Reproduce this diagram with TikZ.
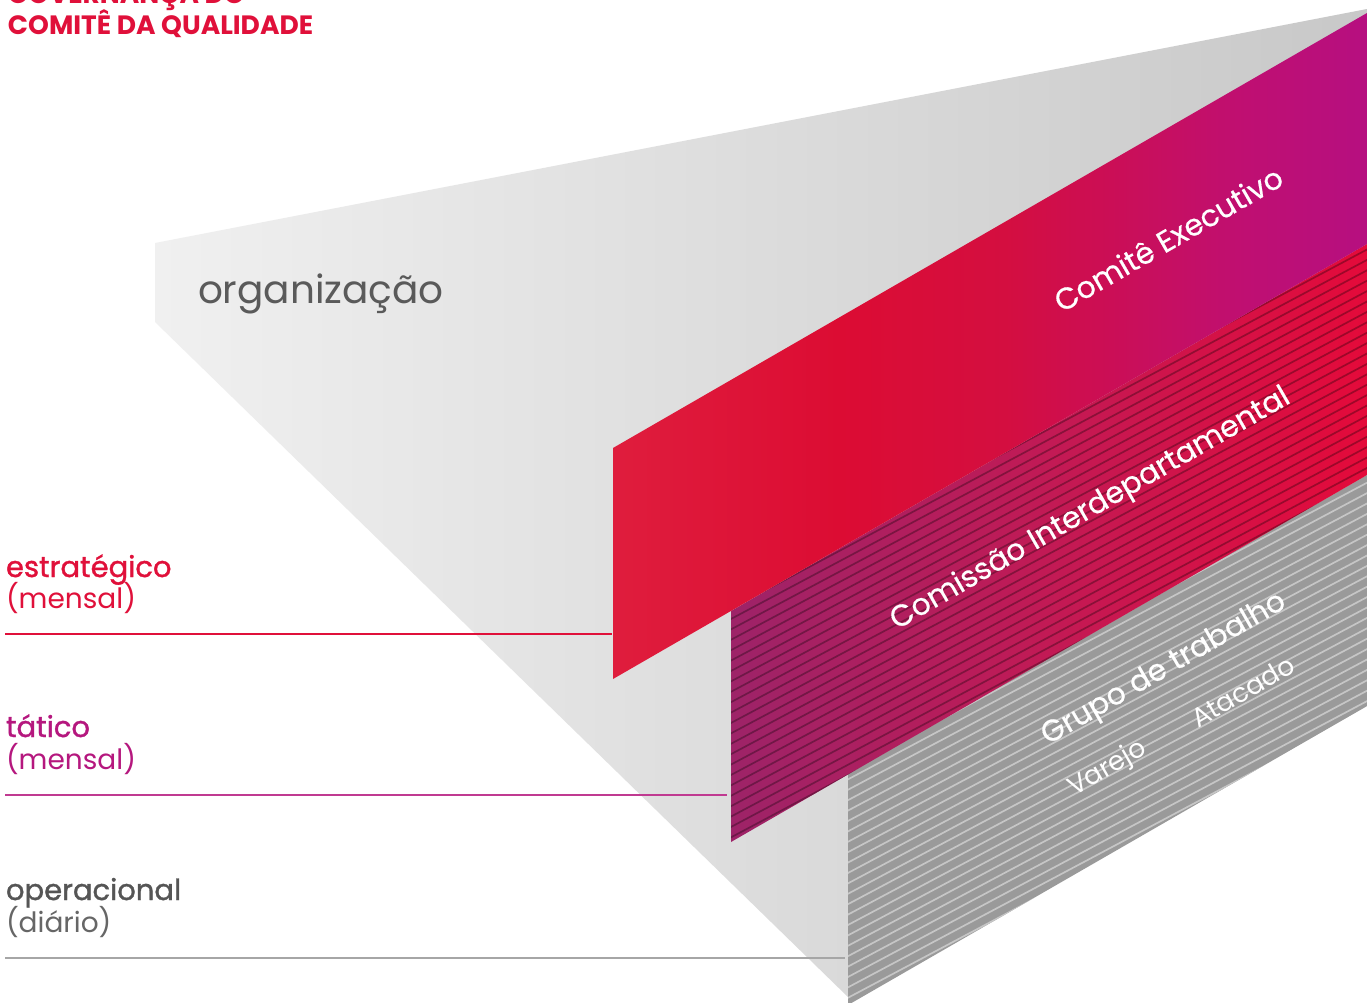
\documentclass[tikz,border=0pt]{standalone}
\usepackage{fontspec}
\setmainfont{Poppins}
\newfontfamily\popsemi[FakeBold=1.2]{Poppins}
\newfontfamily\poplite[FakeBold=0.5]{Poppins}
\definecolor{titred}{HTML}{E0103A}
\definecolor{tatmag}{HTML}{B5177E}
\definecolor{opgray}{HTML}{555555}
\definecolor{orggray}{HTML}{5A5A5A}
\definecolor{funL}{HTML}{F0F0F0}
\definecolor{funR}{HTML}{C8C8C8}
\definecolor{exA}{HTML}{DF1D3D}
\definecolor{exB}{HTML}{DC0C33}
\definecolor{exC}{HTML}{D40E40}
\definecolor{exD}{HTML}{BF0F72}
\definecolor{exE}{HTML}{B60F80}
\definecolor{ciA}{HTML}{9D2368}
\definecolor{ciB}{HTML}{C21A55}
\definecolor{ciC}{HTML}{E40A3A}
\definecolor{gtgray}{HTML}{9A9A9A}
\definecolor{gtstripe}{HTML}{C6C6C6}
\pgfdeclarehorizontalshading{execshade}{100bp}{color(0bp)=(exA); color(25bp)=(exA); color(40bp)=(exB); color(51bp)=(exC); color(67bp)=(exD); color(75bp)=(exE); color(100bp)=(exE)}
\pgfdeclarehorizontalshading{cishade}{100bp}{color(0bp)=(ciA); color(25bp)=(ciA); color(50bp)=(ciB); color(75bp)=(ciC); color(100bp)=(ciC)}
\begin{document}
\begin{tikzpicture}[x=1pt,y=-1pt,
  lbl/.style={anchor=base west, inner sep=0pt, outer sep=0pt},
  rotlbl/.style={lbl, rotate=30, text=white, font=\poplite\fontsize{30}{36}\selectfont},
  smalllbl/.style={lbl, rotate=30, text=white, font=\fontsize{26.5}{30}\selectfont},
  levtitle/.style={lbl, font=\popsemi\fontsize{29}{34}\selectfont},
  levsub/.style={lbl, font=\fontsize{28}{34}\selectfont},
  levline/.style={line width=1.3pt},
  darkhatch/.style={line width=1.7pt, black, opacity=0.3},
  lighthatch/.style={line width=1.7pt, gtstripe}
]
\useasboundingbox (0,0) rectangle (1367,1003);
\fill[white] (0,0) rectangle (1367,1003);

% funnel
\shade[left color=funL, right color=funR]
  (155,243) -- (1367,9) -- (1367,706) -- (848,1003) -- (848,997) -- (155,322) -- cycle;

% grupo de trabalho (gray, hatched)
\fill[gtgray] (848,774) -- (1367,475) -- (1367,706) -- (848,1005) -- cycle;
\begin{scope}
  \clip (848,774) -- (1367,475) -- (1367,706) -- (848,1005) -- cycle;
  \foreach \k in {0,...,38} {
    \draw[lighthatch] (840,{690+10.4*\k}) -- ++(540,-287);
  }
\end{scope}

% comissao interdepartamental (magenta, hatched)
\shade[shading=cishade] (731,611) -- (1367,244) -- (1367,475) -- (731,842) -- cycle;
\begin{scope}
  \clip (731,611) -- (1367,244) -- (1367,475) -- (731,842) -- cycle;
  \foreach \k in {0,...,46} {
    \draw[darkhatch] (720,{500+10.4*\k}) -- ++(660,-351);
  }
\end{scope}

% comite executivo (red)
\shade[shading=execshade] (613,448) -- (1367,13) -- (1367,244) -- (613,679) -- cycle;

% texts in parallelograms
\node[rotlbl] (ce) at (1062,313) {Comitê Executivo};
\node[rotlbl] (ci) at (897,630) {Comissão Interdepartamental};
\node[rotlbl] (gt) at (1048,745) {Grupo de trabalho};
\node[smalllbl] (va) at (1074,796) {Varejo};
\node[smalllbl] (at) at (1198,728) {Atacado};

% organizacao
\node[lbl, text=orggray, font=\fontsize{39}{46}\selectfont] (org) at (198,303) {organização};

% title
\node[lbl, text=titred, font=\bfseries\fontsize{26.5}{30}\selectfont] (t1) at (8,4) {GOVERNANÇA DO};
\node[lbl, text=titred, font=\bfseries\fontsize{26.5}{30}\selectfont] (t2) at (8,35) {COMITÊ DA QUALIDADE};

% levels
\node[levtitle, text=titred] (e1) at (6,577) {estratégico};
\node[levsub, text=titred] (e2) at (6,608) {(mensal)};
\coordinate (e3) at (5,634);
\coordinate (e4) at (612,634);
\draw[levline, titred] (e3) -- (e4);

\node[levtitle, text=tatmag] (m1) at (6,737) {tático};
\node[levsub, text=tatmag] (m2) at (6,769) {(mensal)};
\coordinate (m3) at (5,795);
\coordinate (m4) at (727,795);
\draw[levline, color=tatmag!85] (m3) -- (m4);

\node[levtitle, text=opgray] (o1) at (6,900) {operacional};
\node[levsub, text=opgray!90] (o2) at (6,932) {(diário)};
\coordinate (o3) at (5,958);
\coordinate (o4) at (845,958);
\draw[levline, color=black!35] (o3) -- (o4);
\end{tikzpicture}
\end{document}
